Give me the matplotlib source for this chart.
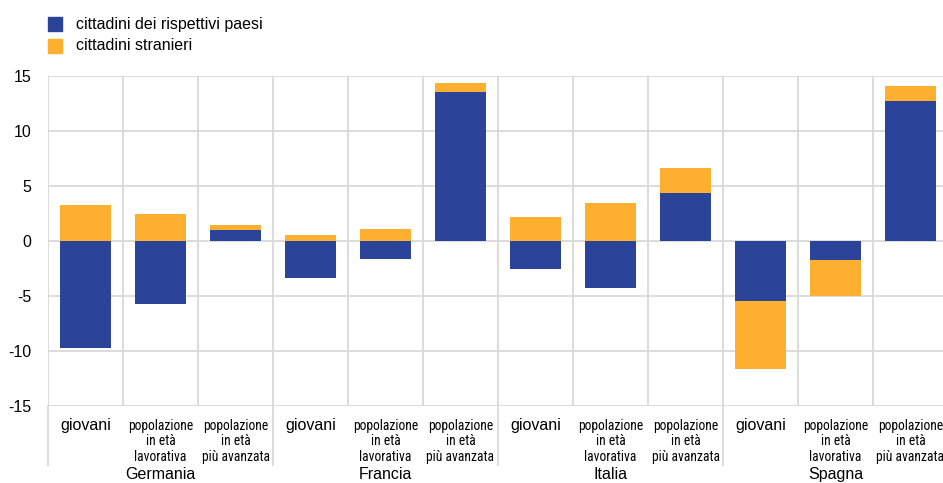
import matplotlib
matplotlib.use("Agg")
import matplotlib.pyplot as plt
from matplotlib.patches import Rectangle
from matplotlib import font_manager
from matplotlib.font_manager import FontProperties
import numpy as np

countries = ["Germania", "Francia", "Italia", "Spagna"]
groups = ["giovani", "popolazione\nin età\nlavorativa", "popolazione\nin età\npiù avanzata"]
series_names = ["cittadini dei rispettivi paesi", "cittadini stranieri"]
nationals = [-9.7, -5.75, 0.97, -3.4, -1.67, 13.58, -2.52, -4.3, 4.36, -5.42, -1.73, 12.73]
foreigners = [3.27, 2.5, 0.48, 0.58, 1.06, 0.78, 2.21, 3.48, 2.31, -6.18, -3.27, 1.36]
yticks = [15, 10, 5, 0, -5, -10, -15]

BLUE = "#2B4399"
ORANGE = "#FDB030"
GRID = "#d9d9d9"

ttf = font_manager.fontManager.ttflist
names = {f.name for f in ttf}
MAIN = "Liberation Sans" if "Liberation Sans" in names else "DejaVu Sans"
plt.rcParams["font.family"] = MAIN


def find_narrow():
    def ok(f):
        w = f.weight if isinstance(f.weight, int) else {"normal": 400, "regular": 400}.get(str(f.weight).lower(), 0)
        return f.style == "normal" and w == 400
    prefs = ["Liberation Sans Narrow", "Roboto Condensed", "Open Sans Condensed", "Noto Sans Condensed"]
    for p in prefs:
        for f in ttf:
            if f.name == p and ok(f):
                return FontProperties(fname=f.fname)
    for f in ttf:
        if ok(f) and (("Narrow" in f.name) or ("Condensed" in f.name)
                      or str(f.stretch) in ("condensed", "semi-condensed", "extra-condensed")
                      or "Condensed" in f.fname or "Narrow" in f.fname):
            return FontProperties(fname=f.fname)
    return None


narrow = find_narrow()
if narrow is not None:
    narrow.set_size(9.8)
else:
    narrow = FontProperties(family=MAIN, size=8.2)

W, H = 943, 483
fig = plt.figure(figsize=(W / 100, H / 100), dpi=100)
left, right, top, bottom = 48, 948, 76, 406
ax = fig.add_axes([left / W, (H - bottom) / H, (right - left) / W, (bottom - top) / H])

n = len(nationals)
x = np.arange(n)
nat = np.array(nationals)
for_ = np.array(foreigners)
fb = np.where(np.sign(for_) == np.sign(nat), nat, 0.0)

ax.bar(x, nat, width=0.667, color=BLUE, zorder=3)
ax.bar(x, for_, bottom=fb, width=0.667, color=ORANGE, zorder=3)

ax.set_xlim(-0.5, n - 0.5)
ax.set_ylim(-15, 15)
ax.set_yticks(yticks)
ax.set_yticklabels([str(t) for t in yticks], fontsize=11.5)
ax.tick_params(axis="y", length=0, pad=12)
ax.set_xticks([])
for s in ax.spines.values():
    s.set_visible(False)
for t in yticks:
    ax.axhline(t, color=GRID, lw=1.3, zorder=1)
for k in range(n + 1):
    ax.axvline(k - 0.5, color=GRID, lw=1.3, zorder=1)

# extended group separators below the axis
ext = (465 - bottom) / (bottom - top)
ng = len(groups)
for c in range(len(countries) + 1):
    ax.plot([c * ng - 0.5, c * ng - 0.5], [0, -ext], transform=ax.get_xaxis_transform(),
            color=GRID, lw=1.3, clip_on=False, zorder=1)

# category labels
def fy(py):
    return -(py - bottom) / (bottom - top)

for i in range(n):
    g = groups[i % ng]
    if i % ng == 0:
        ax.text(i, fy(418), g, transform=ax.get_xaxis_transform(), ha="center", va="top",
                fontsize=11.5, family=MAIN)
    else:
        ax.text(i, fy(419), g, transform=ax.get_xaxis_transform(), ha="center", va="top",
                fontproperties=narrow, linespacing=1.12)

for c, name in enumerate(countries):
    ax.text(c * ng + (ng - 1) / 2, fy(467), name, transform=ax.get_xaxis_transform(),
            ha="center", va="top", fontsize=11.5)

# legend
for j, (nm, col) in enumerate(zip(series_names, [BLUE, ORANGE])):
    y0 = 17 + j * 22
    fig.patches.append(Rectangle((48 / W, 1 - (y0 + 14) / H), 14 / W, 14 / H,
                                 transform=fig.transFigure, color=col))
    fig.text(76 / W, 1 - (y0 + 7) / H, nm, ha="left", va="center", fontsize=11.5)

fig.savefig("out.png", dpi=100)
